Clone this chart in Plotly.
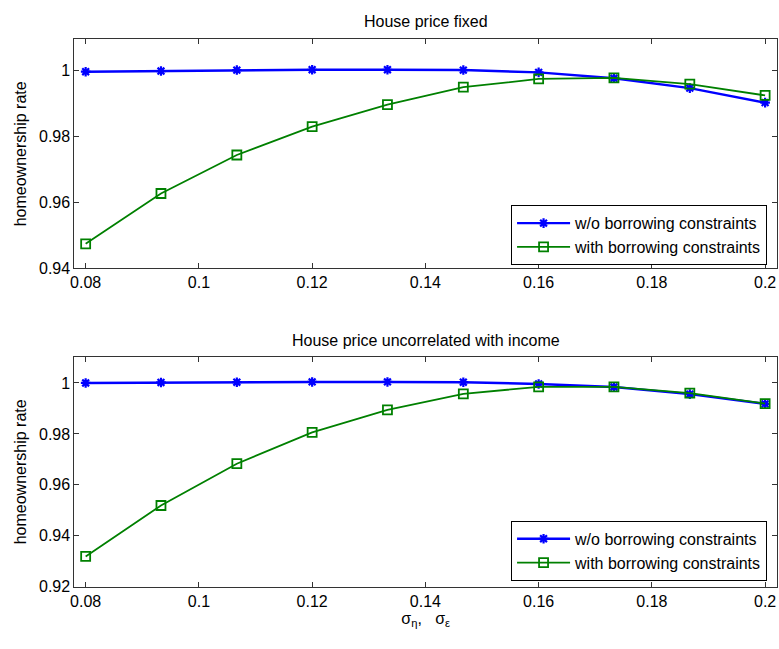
import plotly.graph_objects as go
from plotly.subplots import make_subplots

sigma = [0.08, 0.0933, 0.1067, 0.12, 0.1333, 0.1467, 0.16, 0.1733, 0.1867, 0.2]

fixed_wo = [0.9997, 0.9999, 1.0002, 1.0003, 1.0003, 1.0002, 0.9995, 0.9977, 0.9947, 0.9903]
fixed_with = [0.9474, 0.9627, 0.9744, 0.9830, 0.9897, 0.9950, 0.9975, 0.9978, 0.9959, 0.9925]

uncorr_wo = [1.0000, 1.0002, 1.0003, 1.0004, 1.0004, 1.0003, 0.9996, 0.9984, 0.9956, 0.9918]
uncorr_with = [0.9319, 0.9519, 0.9683, 0.9806, 0.9894, 0.9957, 0.9985, 0.9985, 0.9960, 0.9919]

titles = ["House price fixed", "House price uncorrelated with income"]
x_ticks = [0.08, 0.1, 0.12, 0.14, 0.16, 0.18, 0.2]
x_ticktext = ["0.08", "0.1", "0.12", "0.14", "0.16", "0.18", "0.2"]
y_ticks_top = [0.94, 0.96, 0.98, 1.0]
y_ticktext_top = ["0.94", "0.96", "0.98", "1"]
y_ticks_bot = [0.92, 0.94, 0.96, 0.98, 1.0]
y_ticktext_bot = ["0.92", "0.94", "0.96", "0.98", "1"]
series_names = ["w/o borrowing constraints", "with borrowing constraints"]

W, H = 779, 649
FONT = "Liberation Sans, Arial, sans-serif"
FS = 16

fig = make_subplots(rows=2, cols=1)

blue = "#0000FF"
green = "#008000"

for row, (wo, wi, leg) in enumerate([(fixed_wo, fixed_with, "legend"), (uncorr_wo, uncorr_with, "legend2")], start=1):
    fig.add_trace(go.Scatter(x=sigma, y=wo, mode="lines+markers", name=series_names[0],
                             line=dict(color=blue, width=2.4),
                             marker=dict(symbol="asterisk-open", size=8, color=blue,
                                         line=dict(color=blue, width=2.2)),
                             legend=leg), row=row, col=1)
    fig.add_trace(go.Scatter(x=sigma, y=wi, mode="lines+markers", name=series_names[1],
                             line=dict(color=green, width=1.8),
                             marker=dict(symbol="square-open", size=9, color=green,
                                         line=dict(color=green, width=1.8)),
                             legend=leg), row=row, col=1)

axis_common = dict(showgrid=False, zeroline=False, showline=True, linecolor="#333333",
                   linewidth=1, mirror="allticks", ticks="inside", ticklen=5,
                   tickcolor="#333333", tickfont=dict(family=FONT, size=FS, color="#000000"))

xd = [70.7 / W, 777 / W]
fig.update_xaxes(range=[0.078, 0.2021], tickvals=x_ticks, ticktext=x_ticktext,
                 domain=xd, **axis_common)
fig.update_yaxes(title_text="homeownership rate",
                 title_font=dict(family=FONT, size=FS, color="#000000"),
                 title_standoff=8, **axis_common)

fig.update_yaxes(range=[0.94, 1.0095], tickvals=y_ticks_top, ticktext=y_ticktext_top,
                 domain=[1 - 272 / H, 1 - 40 / H], row=1, col=1)
fig.update_yaxes(range=[0.92, 1.0102], tickvals=y_ticks_bot, ticktext=y_ticktext_bot,
                 domain=[1 - 595 / H, 1 - 362 / H], row=2, col=1)
fig.update_xaxes(title_text="σ<sub>η</sub>,   σ<sub>ε</sub>",
                 title_font=dict(family=FONT, size=FS, color="#000000"),
                 title_standoff=2, row=2, col=1)

xc = (xd[0] + xd[1]) / 2
fig.add_annotation(text=titles[0], x=xc, y=1 - 22 / H, xref="paper", yref="paper",
                   xanchor="center", yanchor="middle",
                   showarrow=False, font=dict(family=FONT, size=FS, color="#000000"))
fig.add_annotation(text=titles[1], x=xc, y=1 - 345 / H, xref="paper", yref="paper",
                   xanchor="center", yanchor="middle",
                   showarrow=False, font=dict(family=FONT, size=FS, color="#000000"))

legend_style = dict(bgcolor="white", bordercolor="#000000", borderwidth=1,
                    font=dict(family=FONT, size=FS, color="#000000"),
                    xanchor="right", yanchor="bottom", tracegroupgap=0,
                    itemwidth=53)
fig.update_layout(
    width=W, height=H, margin=dict(l=0, r=0, t=0, b=0),
    paper_bgcolor="white", plot_bgcolor="white",
    showlegend=True,
    legend=dict(x=767 / W, y=1 - 269 / H, **legend_style),
    legend2=dict(x=767 / W, y=1 - 589 / H, **legend_style),
    font=dict(family=FONT),
)

fig.write_html("out.html")
